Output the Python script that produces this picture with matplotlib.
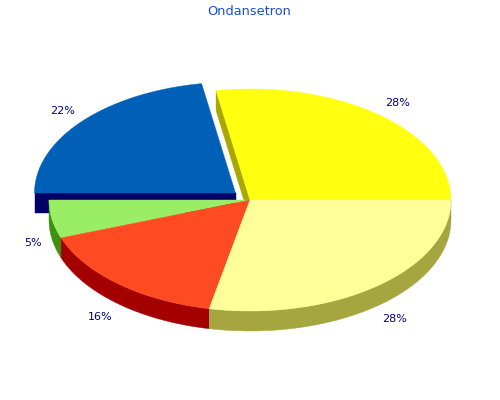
import numpy as np
import matplotlib
matplotlib.use('Agg')
import matplotlib.pyplot as plt

TITLE = 'Ondansetron'
# shares, the printed labels are rounded
values = [27.7, 22.3, 5.55, 16.2, 28.25]
labels = ['28%', '22%', '5%', '16%', '28%']
top_colors = ['#ffff0f', '#0060b8', '#99ee66', '#ff4b22', '#ffff99']
side_colors = ['#a8a800', '#000066', '#3f9010', '#a50000', '#a6a640']

# layout in image pixels
CX, CY = 250, 200
RX, RY = 201, 111
DEPTH = 20
BLUE_SHIFT = (-14.5, -7)
LABEL_R = 1.14


def arc(a0, a1, cx, cy):
    t = np.radians(np.linspace(a0, a1, 200))
    return cx + RX * np.cos(t), cy - RY * np.sin(t)


def draw_top(ax, a0, a1, cx, cy, color):
    x, y = arc(a0, a1, cx, cy)
    ax.fill(np.r_[cx, x], np.r_[cy, y], color=color, lw=0.3)


def draw_rim(ax, a0, a1, cx, cy, color):
    x, y = arc(a0, a1, cx, cy)
    ax.fill(np.r_[x, x[::-1]], np.r_[y, y[::-1] + DEPTH], color=color, lw=0.3)


fig = plt.figure(figsize=(5, 4), dpi=100)
ax = fig.add_axes([0, 0, 1, 1])
ax.set_xlim(0, 500)
ax.set_ylim(400, 0)
ax.axis('off')

edges = np.r_[0, np.cumsum(values)] / sum(values) * 360
cx1, cy1 = CX + BLUE_SHIFT[0], CY + BLUE_SHIFT[1]

# exploded blue slice goes first, everything else sits over it
ax.fill([cx1 - RX, cx1, cx1, cx1 - RX],
        [cy1, cy1, cy1 + DEPTH, cy1 + DEPTH], color=side_colors[1], lw=0.3)
draw_top(ax, edges[1], edges[2], cx1, cy1, top_colors[1])

# cut face of the yellow slice, seen through the gap
x0, y0 = arc(edges[1], edges[1], CX, CY)
ax.fill([x0[0], CX, CX, x0[0]],
        [y0[0], CY, CY + DEPTH, y0[0] + DEPTH], color=side_colors[0], lw=0.3)

for i in [2, 3, 4]:
    draw_rim(ax, edges[i], edges[i + 1], CX, CY, side_colors[i])
for i in [0, 2, 3, 4]:
    draw_top(ax, edges[i], edges[i + 1], CX, CY, top_colors[i])

for i, lab in enumerate(labels):
    mid = np.radians((edges[i] + edges[i + 1]) / 2)
    cx, cy = (cx1, cy1) if i == 1 else (CX, CY)
    lx = cx + LABEL_R * RX * np.cos(mid)
    ly = cy - LABEL_R * RY * np.sin(mid)
    if np.sin(mid) < 0:
        ly += DEPTH + 1
    if i == 1:
        lx += 2
    if i == 2:
        lx += 9  # pulled in from the rim
    ax.text(lx, ly, lab, color='#000080', fontsize=8, ha='center', va='center')

ax.text(249.5, 11.5, TITLE, color='#1a4fd0', fontsize=9.3, ha='center', va='center')

fig.savefig('out.png', dpi=100)
